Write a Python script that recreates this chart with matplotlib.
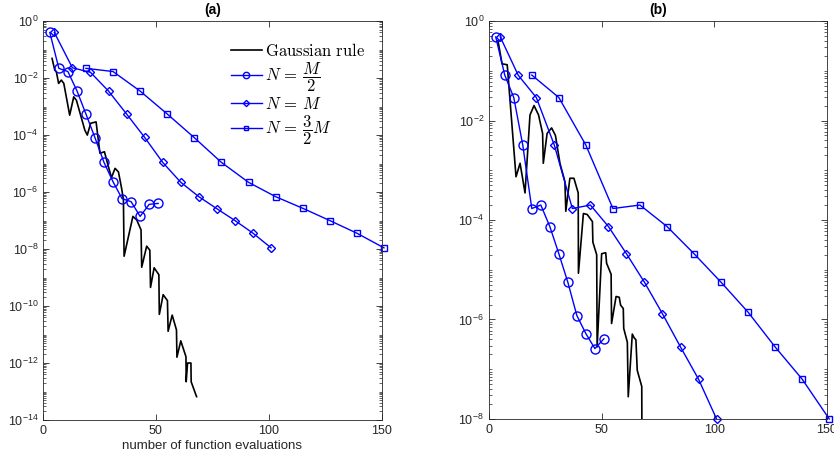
import numpy as np
import matplotlib
matplotlib.use("Agg")
import matplotlib.pyplot as plt
from matplotlib.ticker import FixedLocator, LogLocator, NullFormatter, FuncFormatter

plt.rcParams['font.family'] = ['Liberation Sans', 'DejaVu Sans']
plt.rcParams['mathtext.fontset'] = 'cm'

# ---- panel (a) ----
a_circ_x = [3, 7, 11, 15, 19, 23, 27, 31, 35, 39, 43, 47, 51]
a_circ_y = [4.0e-1, 2.2e-2, 1.7e-2, 3.6e-3, 5.5e-4, 8.1e-5, 1.1e-5, 2.3e-6,
            5.9e-7, 4.6e-7, 1.4e-7, 3.7e-7, 4.0e-7]
a_diam_x = [5, 13, 21, 29, 37, 45, 53, 61, 69, 77, 85, 93, 101]
a_diam_y = [4.0e-1, 2.3e-2, 1.6e-2, 3.5e-3, 5.5e-4, 8.3e-5, 1.1e-5, 2.2e-6,
            6.9e-7, 2.6e-7, 1.0e-7, 3.6e-8, 1.1e-8]
a_sq_x = [19, 31, 43, 55, 67, 79, 91, 103, 115, 127, 139, 151]
a_sq_y = [2.2e-2, 1.7e-2, 3.5e-3, 5.5e-4, 8.1e-5, 1.1e-5, 2.2e-6, 6.9e-7,
          2.7e-7, 1.0e-7, 3.6e-8, 1.1e-8]
a_gauss_x = [4, 5.2, 5.9, 6.9, 8.1, 9.2, 11.8, 13.6, 14.8, 18.5, 19.6, 21.1,
             23.5, 25.2, 27.2, 28.2, 30.3, 31.9, 33.4, 34.8, 35.6, 35.9, 39.8,
             41.5, 43.4, 43.7, 45.9, 47.3, 47.6, 49.2, 51.3, 51.5, 53.2, 55.1,
             55.4, 57.2, 59.1, 59.3, 61.0, 63.3, 63.4, 64.0, 65.5, 65.6, 68.0]
a_gauss_y = [4.9e-2, 1.9e-2, 1.66e-2, 6.5e-3, 8.5e-3, 6.5e-3, 5.0e-4, 2.2e-3,
             1.66e-3, 1.5e-4, 1.0e-4, 2.6e-4, 2.9e-4, 2.3e-5, 2.6e-5, 1.3e-5,
             3.2e-6, 6.8e-6, 5.1e-6, 1.35e-6, 5.4e-7, 5.6e-9, 1.4e-7, 1.05e-7,
             4.7e-8, 2.3e-9, 1.26e-8, 9.1e-9, 4.5e-10, 2.2e-9, 1.26e-9, 5.1e-11,
             2.5e-10, 1.55e-10, 1.3e-11, 4.8e-11, 1.45e-11, 1.6e-12, 6.0e-12,
             1.66e-12, 2.2e-13, 1.0e-12, 1.0e-12, 2.2e-13, 6.6e-14]

# ---- panel (b) ----
b_circ_x = [3, 7, 11, 15, 19, 23, 27, 31, 35, 39, 43, 47, 51]
b_circ_y = [4.8e-1, 8.2e-2, 2.9e-2, 3.2e-3, 1.7e-4, 2.0e-4, 7.4e-5, 2.1e-5,
            5.6e-6, 1.2e-6, 5.2e-7, 2.6e-7, 4.1e-7]
b_diam_x = [5, 13, 21, 29, 37, 45, 53, 61, 69, 77, 85, 93, 101]
b_diam_y = [4.8e-1, 8.1e-2, 2.9e-2, 3.2e-3, 1.7e-4, 2.0e-4, 7.4e-5, 2.1e-5,
            5.6e-6, 1.3e-6, 2.8e-7, 6.3e-8, 1.0e-8]
b_sq_x = [19, 31, 43, 55, 67, 79, 91, 103, 115, 127, 139, 151]
b_sq_y = [8.2e-2, 2.9e-2, 3.2e-3, 1.7e-4, 2.0e-4, 7.4e-5, 2.1e-5, 5.6e-6,
          1.4e-6, 2.8e-7, 6.3e-8, 1.0e-8]
b_gauss_x = [4, 5.8, 8.1, 12, 13.8, 16, 18.2, 20, 22, 23.8, 24.1, 25.8, 27.8,
             29.5, 31.5, 33.7, 34.1, 35.9, 37.7, 39.6, 39.7, 41.9, 43.6, 45.9,
             46.1, 47.8, 48.0, 50.0, 51.8, 52.2, 54.2, 54.4, 56.4, 57.8, 58.4,
             59.6, 59.8, 61.4, 61.8, 63.6, 64.4, 65.2, 65.8, 67.8, 68.0]
b_gauss_y = [4.0e-1, 1.38e-1, 1.32e-1, 7.4e-4, 1.38e-3, 3.5e-4, 1.29e-2, 2.0e-2,
             1.29e-2, 5.5e-3, 1.38e-3, 5.5e-3, 7.1e-3, 5.0e-3, 1.38e-3, 5.9e-4,
             1.5e-4, 6.9e-4, 6.9e-4, 3.5e-4, 8.5e-6, 1.35e-4, 1.29e-4, 9.3e-5,
             3.6e-5, 2.0e-5, 2.8e-7, 2.1e-5, 2.2e-5, 1.35e-5, 8.1e-6, 8.3e-7,
             2.9e-6, 2.8e-6, 1.95e-6, 1.66e-6, 6.6e-7, 3.5e-7, 2.8e-8, 5.1e-7,
             4.3e-7, 3.9e-7, 9.5e-8, 4.5e-8, 1e-10]

labels = [r'$\mathrm{Gaussian\ rule}$', r'$N\,=\,\dfrac{M}{2}$',
          r'$N\,=\,M$', r'$N\,=\,\dfrac{3}{2}M$']

dark = '#262626'
blue = (0, 0, 1)


def log_fmt(v, pos):
    e = int(round(np.log10(v)))
    return r'$\mathdefault{10^{%d}}$' % e


def draw(ax, gx, gy, cx, cy, dx, dy, sx, sy, ymin):
    ax.plot(gx, gy, '-', color='k', lw=1.2)
    ax.plot(cx, cy, '-o', color=blue, lw=1.0, ms=6.5, mfc='none', mew=1.0, clip_on=False)
    ax.plot(dx, dy, '-D', color=blue, lw=1.0, ms=4.5, mfc='none', mew=1.0, clip_on=False)
    ax.plot(sx, sy, '-s', color=blue, lw=1.0, ms=5, mfc='none', mew=1.0, clip_on=False)
    ax.set_yscale('log')
    ax.set_xlim(0, 150)
    ax.set_ylim(10.0 ** ymin, 1)
    ax.yaxis.set_major_locator(FixedLocator(10.0 ** np.arange(ymin, 1, 2)))
    ax.yaxis.set_major_formatter(FuncFormatter(log_fmt))
    ax.yaxis.set_minor_locator(LogLocator(base=10, subs=np.arange(1, 10), numticks=100))
    ax.yaxis.set_minor_formatter(NullFormatter())
    ax.set_xticks([0, 50, 100, 150])
    ax.tick_params(which='both', direction='in', top=True, right=True,
                   colors=dark, labelsize=9)
    ax.tick_params(which='major', length=4, width=0.6)
    ax.tick_params(which='minor', length=2, width=0.5)
    for sp in ax.spines.values():
        sp.set_color(dark)
        sp.set_linewidth(0.6)


fig = plt.figure(figsize=(8.34, 4.66), dpi=100)
ax1 = fig.add_axes([0.0516, 0.0987, 0.4061, 0.856])
ax2 = fig.add_axes([0.5863, 0.1009, 0.4053, 0.854])

draw(ax1, a_gauss_x, a_gauss_y, a_circ_x, a_circ_y, a_diam_x, a_diam_y,
     a_sq_x, a_sq_y, -14)
draw(ax2, b_gauss_x, b_gauss_y, b_circ_x, b_circ_y, b_diam_x, b_diam_y,
     b_sq_x, b_sq_y, -8)

ax1.set_title('(a)', fontsize=10, fontweight='bold', color='k', pad=5)
ax2.set_title('(b)', fontsize=10, fontweight='bold', color='k', pad=5)
ax1.set_xlabel('number of function evaluations', fontsize=9.5, color=dark, labelpad=2)

leg = ax1.legend(ax1.get_lines(), labels, loc='upper right',
                 bbox_to_anchor=(0.97, 0.965), frameon=False, fontsize=12,
                 handlelength=1.9, handletextpad=0.15, labelspacing=0.12,
                 markerscale=0.7, borderaxespad=0)

fig.savefig('out.png', dpi=100)
